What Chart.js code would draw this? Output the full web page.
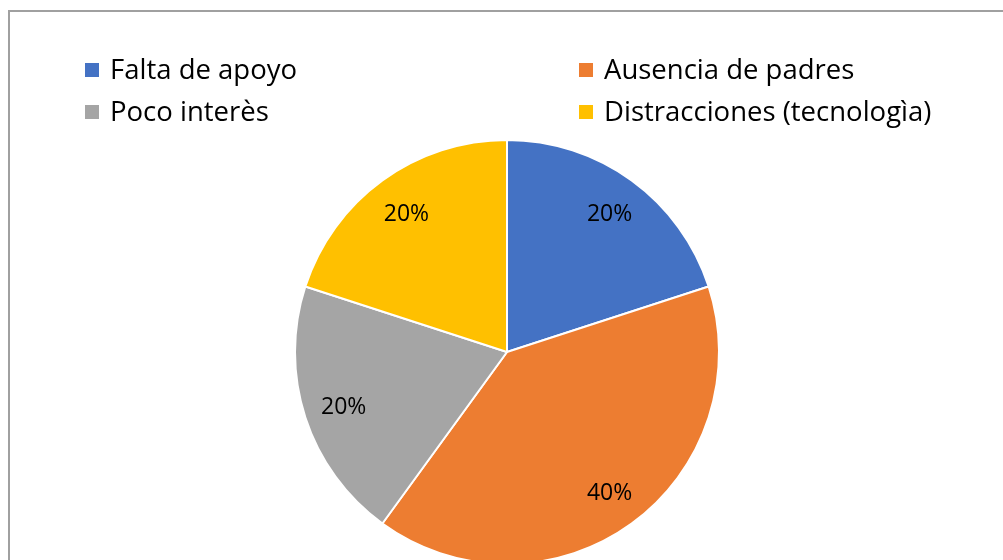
<!DOCTYPE html>
<html>
<head>
<meta charset="utf-8">
<script src="https://cdn.jsdelivr.net/npm/chart.js@4"></script>
<style>
  html, body { margin: 0; padding: 0; background: #fff; }
  #wrap { position: relative; width: 1003px; height: 560px; overflow: hidden; }
  #wrap canvas { position: absolute; left: 0; top: 0; }
</style>
</head>
<body>
<div id="wrap"><canvas id="c" width="1003" height="620"></canvas></div>
<script>
const categories = ['Falta de apoyo', 'Ausencia de padres', 'Poco interès', 'Distracciones (tecnologìa)'];
const values = [20, 40, 20, 20];
const valueLabels = ['20%', '40%', '20%', '20%'];
const colors = ['#4472C4', '#ED7D31', '#A5A5A5', '#FFC000'];

const FONT = '"Open Sans", sans-serif';

const framePlugin = {
  id: 'frame',
  beforeDraw(chart) {
    const ctx = chart.ctx;
    ctx.save();
    ctx.fillStyle = '#fff';
    ctx.fillRect(0, 0, chart.width, chart.height);
    ctx.strokeStyle = '#a0a0a0';
    ctx.lineWidth = 2;
    ctx.strokeRect(9, 11, 1100, 700);
    ctx.restore();
  }
};

const legendPlugin = {
  id: 'customLegend',
  afterDraw(chart) {
    const ctx = chart.ctx;
    const cols = [85, 579];
    const rows = [70, 112];
    ctx.save();
    ctx.font = '27.5px ' + FONT;
    ctx.textBaseline = 'middle';
    ctx.textAlign = 'left';
    categories.forEach((name, i) => {
      const x = cols[i % 2], y = rows[Math.floor(i / 2)];
      ctx.fillStyle = colors[i];
      ctx.fillRect(x, y - 7, 14, 14);
      ctx.fillStyle = '#000';
      ctx.fillText(name, x + 25, y + 1);
    });
    ctx.restore();
  }
};

const labelPlugin = {
  id: 'sliceLabels',
  afterDatasetsDraw(chart) {
    const ctx = chart.ctx;
    const meta = chart.getDatasetMeta(0);
    ctx.save();
    ctx.font = '23px ' + FONT;
    ctx.fillStyle = '#000';
    ctx.textAlign = 'center';
    ctx.textBaseline = 'middle';
    meta.data.forEach((arc, i) => {
      const p = arc.getProps(['x', 'y', 'startAngle', 'endAngle', 'outerRadius'], true);
      const a = (p.startAngle + p.endAngle) / 2;
      const r = p.outerRadius * 0.815;
      ctx.fillText(valueLabels[i], p.x + Math.cos(a) * r + 1, p.y + Math.sin(a) * r + 2);
    });
    ctx.restore();
  }
};

new Chart(document.getElementById('c'), {
  type: 'pie',
  data: {
    labels: categories,
    datasets: [{
      data: values,
      backgroundColor: colors,
      borderColor: '#ffffff',
      borderWidth: 2,
      radius: 212
    }]
  },
  options: {
    responsive: false,
    animation: false,
    layout: { padding: { left: 295, right: 284, top: 140, bottom: 56 } },
    plugins: {
      legend: { display: false },
      tooltip: { enabled: false }
    }
  },
  plugins: [framePlugin, legendPlugin, labelPlugin]
});
</script>
</body>
</html>
